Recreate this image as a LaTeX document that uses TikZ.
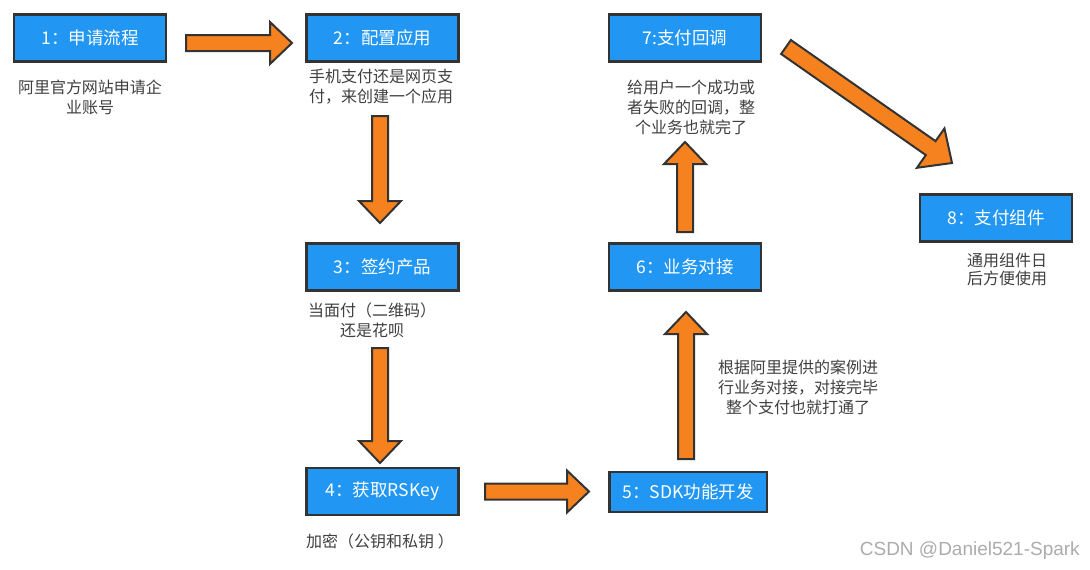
\documentclass[tikz,border=0pt]{standalone}
\usepackage{fontspec}
\setmainfont{Noto Sans CJK SC}
\newfontfamily\markfont{Liberation Sans}
\usetikzlibrary{calc}
\definecolor{boxblue}{HTML}{2196F3}
\definecolor{edgegray}{HTML}{333333}
\definecolor{arroworange}{HTML}{F5821F}
\definecolor{notegray}{HTML}{404040}
\tikzset{
  stepbox/.style={draw=edgegray, line width=2.5pt, fill=boxblue, text=white, minimum width=152pt, minimum height=47pt, inner sep=0pt, font=\fontsize{17.5}{20}\selectfont},
  note/.style={text=notegray, align=center, inner sep=0pt, font=\fontsize{16}{20}\selectfont},
  blockarrow/.style={draw=edgegray, line width=2pt, fill=arroworange, line join=miter},
}
% sizes of the block arrows
\newcommand{\shafthw}{8pt}
\newcommand{\headhw}{21pt}
\newcommand{\headlen}{22pt}
\newcommand{\flowarrow}[2]{%
  \coordinate (hb) at ($(#2)!\headlen!(#1)$);
  \draw[blockarrow] ($(#1)!\shafthw!90:(#2)$) -- ($(hb)!\shafthw!90:(#2)$) -- ($(hb)!\headhw!90:(#2)$) -- (#2) -- ($(hb)!\headhw!-90:(#2)$) -- ($(hb)!\shafthw!-90:(#2)$) -- ($(#1)!\shafthw!-90:(#2)$) -- cycle;}

\begin{document}
\begin{tikzpicture}[x=1pt,y=-1pt]
  \useasboundingbox[fill=white] (0,0) rectangle (1090,570);
  % steps
  \node[stepbox] (b1) at (90,38) {1：申请流程};
  \node[stepbox] (b2) at (382.5,38) {2：配置应用};
  \node[stepbox] (b3) at (382.5,267) {3：签约产品};
  \node[stepbox] (b4) at (382.5,491.5) {4：获取RSKey};
  \node[stepbox, minimum width=157.5pt, minimum height=40pt] (b5) at (688,492) {5：SDK功能开发};
  \node[stepbox] (b6) at (685,267) {6：业务对接};
  \node[stepbox] (b7) at (685,38) {7:支付回调};
  \node[stepbox] (b8) at (996,218) {8：支付组件};
  % notes
  \node[note] (n1) at (90,97) {阿里官方网站申请企\\业账号};
  \node[note] (n2) at (381,87) {手机支付还是网页支\\付，来创建一个应用};
  \node[note] (n3) at (372,320) {当面付（二维码）\\还是花呗};
  \node[note, anchor=west] (n4) at (306,541) {加密（公钥和私钥 ）};
  \node[note] (n5) at (798,387) {根据阿里提供的案例进\\行业务对接，对接完毕\\整个支付也就打通了};
  \node[note] (n7) at (691,107) {给用户一个成功或\\者失败的回调，整\\个业务也就完了};
  \node[note, font=\fontsize{16}{18}\selectfont] (n8) at (1007,269) {通用组件日\\后方便使用};
  % arrows
  \coordinate (a1s) at (186,43);    \coordinate (a1e) at (292,43);
  \coordinate (a2s) at (380,116);   \coordinate (a2e) at (380,223);
  \coordinate (a3s) at (380,348);   \coordinate (a3e) at (380,463);
  \coordinate (a4s) at (485,491.5); \coordinate (a4e) at (589,491.5);
  \coordinate (a5s) at (686,459);   \coordinate (a5e) at (686,312);
  \coordinate (a6s) at (685,232);   \coordinate (a6e) at (685,142);
  \coordinate (a7s) at (786,47);    \coordinate (a7e) at (952,163);
  \flowarrow{a1s}{a1e}
  \flowarrow{a2s}{a2e}
  \flowarrow{a3s}{a3e}
  \flowarrow{a4s}{a4e}
  \flowarrow{a5s}{a5e}
  \flowarrow{a6s}{a6e}
  \renewcommand{\shafthw}{8.5pt}\renewcommand{\headhw}{24pt}\renewcommand{\headlen}{26pt}
  \flowarrow{a7s}{a7e}
  % watermark
  \node[anchor=east, text=gray!65, font=\markfont\fontsize{19}{22}\selectfont, inner sep=0pt] (mark) at (1080,551) {CSDN @Daniel521-Spark};
\end{tikzpicture}
\end{document}
